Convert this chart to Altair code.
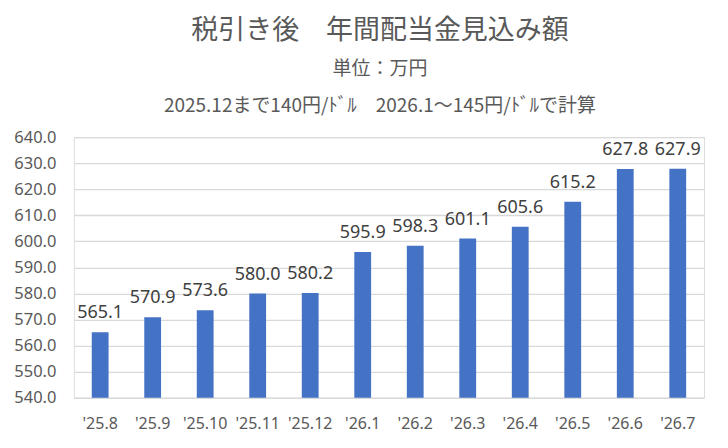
import altair as alt
import pandas as pd

months = ["'25.8", "'25.9", "'25.10", "'25.11", "'25.12", "'26.1",
          "'26.2", "'26.3", "'26.4", "'26.5", "'26.6", "'26.7"]
values = [565.1, 570.9, 573.6, 580.0, 580.2, 595.9,
          598.3, 601.1, 605.6, 615.2, 627.8, 627.9]
y_ticks = [540, 550, 560, 570, 580, 590, 600, 610, 620, 630, 640]
y_min = 540
y_max = 640

title_text = "税引き後　年間配当金見込み額"
subtitle_lines = ["単位：万円", "2025.12まで140円/ﾄﾞﾙ　2026.1～145円/ﾄﾞﾙで計算"]

df = pd.DataFrame({"month": months, "value": values})

x_enc = alt.X("month:N", sort=months,
              scale=alt.Scale(paddingInner=0.68, paddingOuter=0.34),
              axis=alt.Axis(title=None, labelAngle=0, domain=False, ticks=False,
                            labelFont="Noto Sans", labelFontSize=16,
                            labelColor="#595959", labelPadding=18, grid=False,
                            labelOverlap=False))
y_enc = alt.Y("value:Q",
              scale=alt.Scale(domain=[y_min, y_max], zero=False, nice=False),
              axis=alt.Axis(title=None, values=y_ticks, format=".1f",
                            domain=False, ticks=False, labelFont="Noto Sans",
                            labelFontSize=16.5, labelColor="#595959",
                            labelPadding=18, gridColor="#D9D9D9", gridWidth=1.3,
                            labelOverlap=False, labelFlush=False))

bars = alt.Chart(df).mark_bar(color="#4472C4").encode(
    x=x_enc, y=y_enc, y2=alt.datum(y_min)
)

labels = alt.Chart(df).mark_text(
    font="Noto Sans", fontSize=18, color="#404040", baseline="alphabetic", dy=-14
).encode(
    x=x_enc,
    y=y_enc,
    text=alt.Text("value:Q", format=".1f"),
)

chart = alt.layer(bars, labels).properties(
    width=631,
    height=261,
    autosize=alt.AutoSizeParams(type="none"),
    padding={"left": 66, "top": 129, "right": 16, "bottom": 40},
    title=alt.TitleParams(
        text=title_text,
        subtitle=subtitle_lines,
        anchor="middle",
        frame="group",
        dx=-9,
        font="Noto Sans CJK JP",
        fontSize=27,
        fontWeight="normal",
        color="#595959",
        subtitleFont="Noto Sans CJK JP",
        subtitleFontSize=19,
        subtitleColor="#595959",
        subtitleLineHeight=37,
        subtitlePadding=15,
        offset=12,
    ),
).configure_view(stroke=None).configure(background="white")

chart.save("out.html", embed_options={"renderer": "svg", "actions": False})
